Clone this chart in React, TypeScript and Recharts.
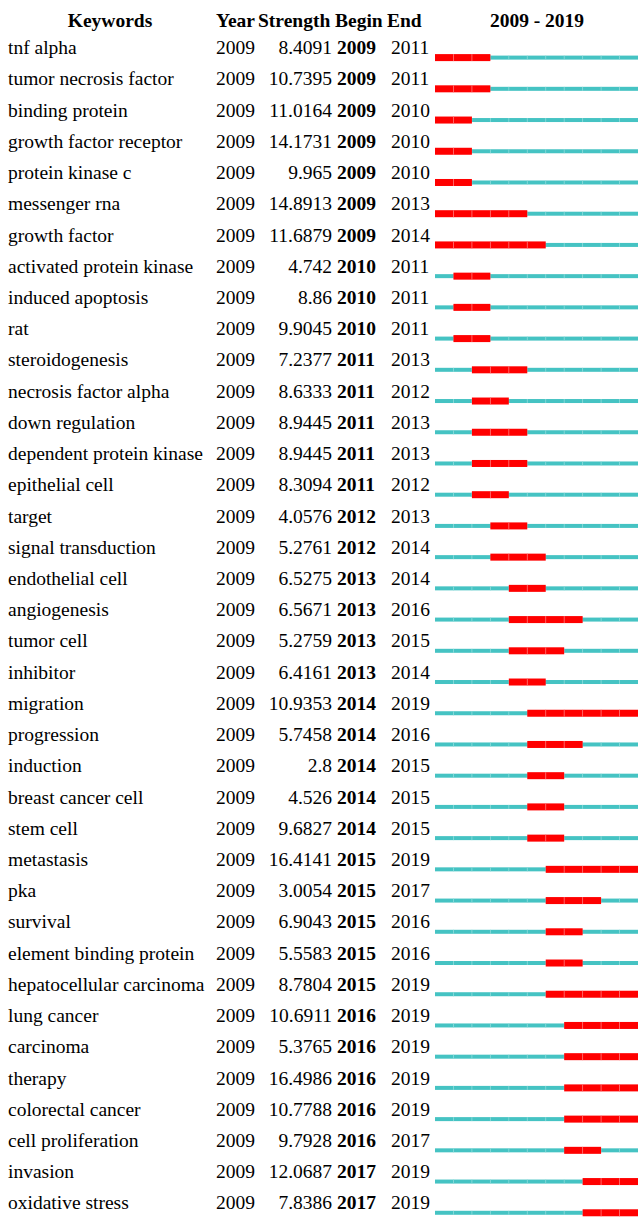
import React from 'react';
import { BarChart, Bar, XAxis, YAxis } from 'recharts';

// Burst detection table (CiteSpace style), 2009 - 2019
const keywords = [
  'tnf alpha', 'tumor necrosis factor', 'binding protein', 'growth factor receptor',
  'protein kinase c', 'messenger rna', 'growth factor', 'activated protein kinase',
  'induced apoptosis', 'rat', 'steroidogenesis', 'necrosis factor alpha',
  'down regulation', 'dependent protein kinase', 'epithelial cell', 'target',
  'signal transduction', 'endothelial cell', 'angiogenesis', 'tumor cell',
  'inhibitor', 'migration', 'progression', 'induction', 'breast cancer cell',
  'stem cell', 'metastasis', 'pka', 'survival', 'element binding protein',
  'hepatocellular carcinoma', 'lung cancer', 'carcinoma', 'therapy',
  'colorectal cancer', 'cell proliferation', 'invasion', 'oxidative stress',
];

const strengths = [
  8.4091, 10.7395, 11.0164, 14.1731, 9.965, 14.8913, 11.6879, 4.742,
  8.86, 9.9045, 7.2377, 8.6333, 8.9445, 8.9445, 8.3094, 4.0576,
  5.2761, 6.5275, 6.5671, 5.2759, 6.4161, 10.9353, 5.7458, 2.8, 4.526,
  9.6827, 16.4141, 3.0054, 6.9043, 5.5583, 8.7804, 10.6911, 5.3765, 16.4986,
  10.7788, 9.7928, 12.0687, 7.8386,
];

const beginYears = [
  2009, 2009, 2009, 2009, 2009, 2009, 2009, 2010, 2010, 2010, 2011, 2011,
  2011, 2011, 2011, 2012, 2012, 2013, 2013, 2013, 2013, 2014, 2014, 2014,
  2014, 2014, 2015, 2015, 2015, 2015, 2015, 2016, 2016, 2016, 2016, 2016,
  2017, 2017,
];

const endYears = [
  2011, 2011, 2010, 2010, 2010, 2013, 2014, 2011, 2011, 2011, 2013, 2012,
  2013, 2013, 2012, 2013, 2014, 2014, 2016, 2015, 2014, 2019, 2016, 2015,
  2015, 2015, 2019, 2017, 2016, 2016, 2019, 2019, 2019, 2019, 2019, 2017,
  2019, 2019,
];

const firstYear = 2009;
const lastYear = 2019;
const headers = ['Keywords', 'Year', 'Strength', 'Begin', 'End'];

const rows = keywords.map((keyword, i) => ({
  keyword,
  year: firstYear,
  strength: strengths[i],
  begin: beginYears[i],
  end: endYears[i],
  span: [firstYear, lastYear + 1],
  burst: [beginYears[i], endYears[i] + 1],
}));

const FONT = '"Liberation Serif", "Times New Roman", serif';
const FONT_SIZE = 19.5;
const RED = '#ff0000';
const TEAL = '#45c3c3';

const SegmentShape = (props: any) => {
  const { x, y, width, height, fill, thickness, divider } = props;
  const payload = props.payload || {};
  const range = props.dataKey === 'span' ? payload.span : payload.burst;
  if (!range || width <= 0) return null;
  const n = range[1] - range[0];
  const step = width / n;
  const cy = y + height / 2;
  const top = cy - thickness / 2;
  return (
    <g>
      <rect x={x} y={top} width={width} height={thickness} fill={fill} />
      {Array.from({ length: n - 1 }, (_, k) => (
        <rect
          key={k}
          x={x + step * (k + 1) - 0.4}
          y={top}
          width={0.8}
          height={thickness}
          fill={divider}
        />
      ))}
    </g>
  );
};

const RowTick = (props: any) => {
  const { y, payload } = props;
  const row = rows[payload.index];
  if (!row) return null;
  const base = y - 3.5;
  return (
    <g fontFamily={FONT} fontSize={FONT_SIZE} fill="#000">
      <text x={8} y={base}>{row.keyword}</text>
      <text x={216} y={base}>{row.year}</text>
      <text x={332} y={base} textAnchor="end">{String(row.strength)}</text>
      <text x={337} y={base} fontWeight="bold">{row.begin}</text>
      <text x={391} y={base}>{row.end}</text>
    </g>
  );
};

const App: React.FC = () => {
  return (
    <div
      style={{
        position: 'absolute',
        left: 0,
        top: 0,
        width: 638,
        height: 1217,
        overflow: 'hidden',
        background: '#fff',
      }}
    >
      <svg
        width={638}
        height={40}
        style={{ position: 'absolute', left: 0, top: 0 }}
        fontFamily={FONT}
        fontSize={FONT_SIZE}
        fontWeight="bold"
      >
        <text x={110} y={27} textAnchor="middle">{headers[0]}</text>
        <text x={216} y={27}>{headers[1]}</text>
        <text x={258} y={27}>{headers[2]}</text>
        <text x={335} y={27}>{headers[3]}</text>
        <text x={387} y={27}>{headers[4]}</text>
        <text x={537} y={27} textAnchor="middle">{`${firstYear} - ${lastYear}`}</text>
      </svg>
      <BarChart
        width={638}
        height={1230}
        data={rows}
        layout="vertical"
        margin={{ top: 42.1, right: 0, left: 0, bottom: 1.5 }}
        barGap={-7}
        style={{ position: 'absolute', left: 0, top: 0 }}
      >
        <XAxis type="number" domain={[firstYear, lastYear + 1]} hide allowDataOverflow />
        <YAxis
          type="category"
          dataKey="keyword"
          width={435}
          axisLine={false}
          tickLine={false}
          interval={0}
          tick={<RowTick />}
        />
        <Bar
          dataKey="span"
          barSize={7}
          fill={TEAL}
          isAnimationActive={false}
          shape={(p: any) => <SegmentShape {...p} dataKey="span" thickness={4} divider="#8fdcdc" />}
        />
        <Bar
          dataKey="burst"
          barSize={7}
          fill={RED}
          isAnimationActive={false}
          shape={(p: any) => <SegmentShape {...p} dataKey="burst" thickness={7} divider="#ff7a7a" />}
        />
      </BarChart>
    </div>
  );
};

export default App;
